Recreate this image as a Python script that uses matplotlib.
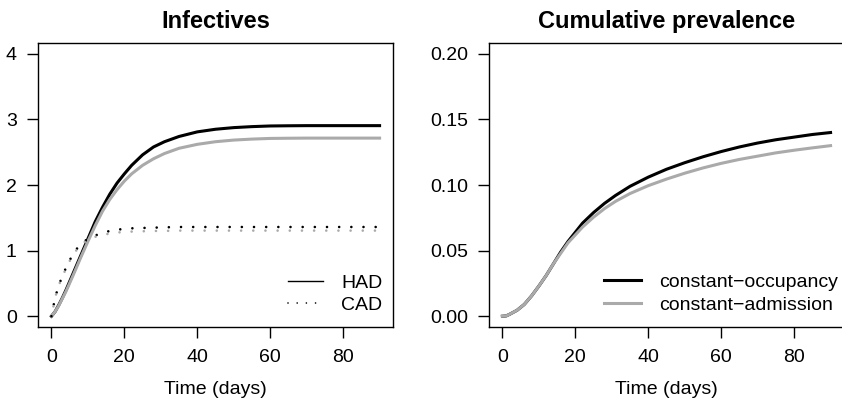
import matplotlib
matplotlib.use("Agg")
import matplotlib.pyplot as plt
from matplotlib.lines import Line2D

plt.rcParams['font.family'] = ['Liberation Sans', 'DejaVu Sans']

# time grid (days)
t = [0, 1, 2, 3, 4, 6, 8, 10, 12, 14, 16, 18, 20, 22, 25, 28, 31, 35, 40, 45, 50, 55, 60, 65, 70, 75, 80, 85, 90]

# Infectives: HAD / CAD under constant-occupancy (black) and constant-admission (grey)
had_occ = [0, 0.07, 0.17, 0.28, 0.40, 0.66, 0.92, 1.18, 1.44, 1.66, 1.86, 2.03, 2.17, 2.30, 2.46, 2.58,
           2.66, 2.74, 2.81, 2.85, 2.875, 2.89, 2.90, 2.903, 2.905, 2.905, 2.905, 2.905, 2.905]
had_adm = [0, 0.07, 0.16, 0.27, 0.38, 0.63, 0.89, 1.14, 1.38, 1.60, 1.78, 1.93, 2.06, 2.17, 2.30, 2.40,
           2.48, 2.56, 2.62, 2.66, 2.685, 2.70, 2.71, 2.713, 2.715, 2.715, 2.715, 2.715, 2.715]
cad_occ = [0, 0.28, 0.47, 0.61, 0.74, 0.96, 1.10, 1.18, 1.23, 1.27, 1.30, 1.32, 1.33, 1.34, 1.345, 1.35,
           1.355, 1.36, 1.36, 1.36, 1.36, 1.36, 1.36, 1.36, 1.36, 1.36, 1.36, 1.36, 1.36]
cad_adm = [0, 0.28, 0.47, 0.60, 0.73, 0.95, 1.08, 1.17, 1.21, 1.24, 1.26, 1.275, 1.285, 1.29, 1.295, 1.30,
           1.30, 1.305, 1.305, 1.305, 1.305, 1.305, 1.305, 1.305, 1.305, 1.305, 1.305, 1.305, 1.305]

# Cumulative prevalence
prev_occ = [0, 0.0002, 0.0015, 0.003, 0.0045, 0.009, 0.0155, 0.023, 0.031, 0.040, 0.049, 0.057, 0.064,
            0.071, 0.079, 0.086, 0.092, 0.099, 0.106, 0.112, 0.117, 0.1215, 0.1255, 0.129, 0.132, 0.1345,
            0.1365, 0.1385, 0.140]
prev_adm = [0, 0.0002, 0.0015, 0.003, 0.0045, 0.009, 0.0155, 0.023, 0.031, 0.040, 0.048, 0.056, 0.062,
            0.068, 0.0755, 0.082, 0.0875, 0.0935, 0.0995, 0.1045, 0.109, 0.113, 0.1165, 0.1195, 0.122,
            0.1245, 0.1265, 0.1283, 0.130]

grey = '#aaaaaa'
lw = 2.2
fs = 14

fig = plt.figure(figsize=(8.42, 4.04), dpi=100)
ax1 = fig.add_axes([0.0455, 0.1913, 0.4209, 0.7015])
ax2 = fig.add_axes([0.5811, 0.1913, 0.4209, 0.7015])

ax1.plot(t, had_occ, color='black', lw=lw)
ax1.plot(t, had_adm, color=grey, lw=lw)
ax1.plot(t, cad_occ, color='black', lw=1.9, linestyle=(0, (0.01, 4.6)), dash_capstyle='round')
ax1.plot(t, cad_adm, color=grey, lw=1.9, linestyle=(0.8, (0.01, 4.6)), dash_capstyle='round')
ax1.set_ylim(-0.16, 4.16)
ax1.set_yticks([0, 1, 2, 3, 4])
ax1.set_title('Infectives', fontsize=17, fontweight='bold', pad=11)

ax2.plot(t, prev_occ, color='black', lw=lw)
ax2.plot(t, prev_adm, color=grey, lw=lw)
ax2.set_ylim(-0.008, 0.208)
ax2.set_yticks([0, 0.05, 0.10, 0.15, 0.20])
ax2.set_yticklabels(['0.00', '0.05', '0.10', '0.15', '0.20'])
ax2.set_title('Cumulative prevalence', fontsize=17, fontweight='bold', pad=11)

for ax in (ax1, ax2):
    ax.set_xlim(-3.6, 93.6)
    ax.set_xticks([0, 20, 40, 60, 80])
    ax.set_xlabel('Time (days)', fontsize=fs, labelpad=11)
    ax.tick_params(axis='both', labelsize=fs, length=8, width=1)
    ax.tick_params(axis='x', pad=8)
    ax.tick_params(axis='y', pad=7.5)
    for s in ax.spines.values():
        s.set_linewidth(1)

h1 = [Line2D([], [], color='black', lw=1),
      Line2D([], [], color='black', lw=1.2, linestyle=(0, (0.01, 5.5)), dash_capstyle='round')]
ax1.legend(h1, ['HAD', 'CAD'], loc='lower left', bbox_to_anchor=(0.705, 0.045), frameon=False,
           fontsize=fs, borderpad=0, borderaxespad=0, handlelength=1.8, handletextpad=0.94,
           labelspacing=0.22)

h2 = [Line2D([], [], color='black', lw=lw), Line2D([], [], color=grey, lw=lw)]
ax2.legend(h2, ['constant\u2212occupancy', 'constant\u2212admission'], loc='lower left',
           bbox_to_anchor=(0.324, 0.045), frameon=False, fontsize=fs, borderpad=0,
           borderaxespad=0, handlelength=1.9, handletextpad=0.91, labelspacing=0.28)

fig.savefig('out.png', dpi=100)
